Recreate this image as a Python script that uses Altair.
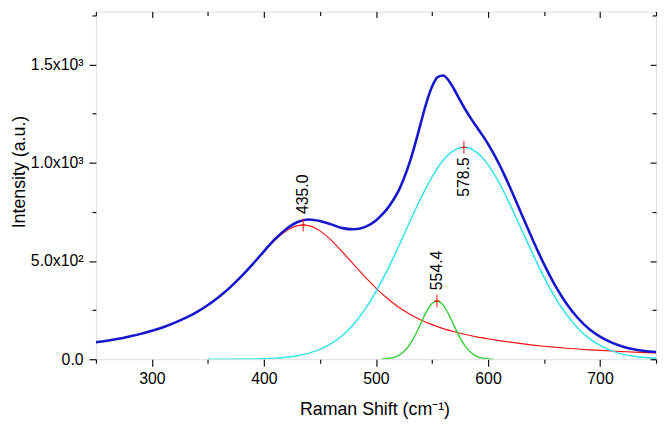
import altair as alt
import pandas as pd

# ---------------- data ----------------
# cumulative fit (blue)
blue_x = [250, 260, 270, 280, 290, 300, 310, 320, 330, 340, 350, 360, 370, 380, 390,
          400, 410, 420, 430, 440, 450, 460, 470, 480, 490, 500, 505, 510, 515, 520,
          525, 530, 535, 540, 545, 550, 555, 560, 565, 570, 575, 580, 585, 590, 595,
          600, 605, 610, 615, 620, 630, 640, 650, 660, 670, 680, 690, 700, 710, 720,
          730, 740, 750]
blue_y = [86, 94, 104, 116, 129, 145, 163, 185, 210, 240, 276, 318, 367, 423, 484,
          549, 612, 663, 698, 711, 703, 686, 667, 661, 672, 706, 733, 765, 806, 855,
          921, 1000, 1096, 1201, 1304, 1386, 1435, 1443, 1417, 1371, 1318, 1268, 1223, 1181, 1140,
          1096, 1046, 992, 933, 870, 738, 607, 484, 375, 284, 211, 155, 115, 86, 65,
          51, 42, 37]

# peak 1 (red)
red_x = [250, 260, 270, 280, 290, 300, 310, 320, 330, 340, 350, 360, 370, 380, 390,
         400, 410, 420, 430, 435, 440, 450, 460, 470, 480, 490, 500, 510, 520, 530,
         540, 550, 560, 570, 580, 590, 600, 610, 620, 630, 640, 650, 660, 670, 680,
         690, 700, 710, 720, 730, 740, 750]
red_y = [86, 94, 104, 116, 129, 145, 163, 185, 210, 240, 276, 318, 367, 422, 483,
         546, 606, 653, 680, 683, 680, 653, 606, 546, 483, 420, 362, 310, 266, 230,
         200, 176, 156, 140, 126, 114, 104, 95, 87, 79, 72, 66, 61, 56, 52,
         48, 45, 42, 39, 36, 34, 32]

# peak 3 (cyan)
cyan_x = [350, 360, 370, 380, 390, 400, 410, 420, 430, 440, 450, 460, 470, 480, 490,
          500, 510, 520, 530, 540, 550, 560, 570, 578.5, 590, 600, 610, 620, 630, 640,
          650, 660, 670, 680, 690, 700, 710, 720, 730, 740, 750]
cyan_y = [0.1, 0.2, 0.3, 0.7, 1.5, 2.9, 5.6, 10, 18, 31, 50, 80, 121, 178, 252,
          344, 452, 571, 697, 819, 927, 1012, 1064, 1078, 1052, 990, 897, 783, 659, 535,
          418, 314, 228, 159, 107, 70, 44, 26, 15, 8.5, 4.6]

# peak 2 (green)
green_x = [505, 510, 515, 520, 525, 530, 535, 540, 545, 550, 554.4, 560, 565, 570, 575,
           580, 585, 590, 595, 600, 605]
green_y = [1, 3, 8, 18, 39, 73, 122, 182, 241, 283, 296, 275, 227, 167, 109,
           64, 33, 15, 6, 2, 0.7]

# peak markers / labels
peak_x = [435.0, 554.4, 578.5]
peak_y = [683, 296, 1078]
peak_labels = ["435.0", "554.4", "578.5"]
peak_above = [True, True, False]

# axes
x_tick_values = [250, 300, 350, 400, 450, 500, 550, 600, 650, 700, 750]
y_tick_values = [0, 250, 500, 750, 1000, 1250, 1500, 1750]
y_label_values = [0, 500, 1000, 1500]
y_label_texts = ["0.0", "5.0x10²", "1.0x10³", "1.5x10³"]
x_title = "Raman Shift (cm⁻¹)"
y_title = "Intensity (a.u.)"

# ---------------- layout ----------------
FONT = "Liberation Sans"
PLOT_W, PLOT_H = 567, 352
X_DOMAIN = [250, 750]
Y_DOMAIN = [0, 1769]

xscale = alt.Scale(domain=X_DOMAIN, nice=False, zero=False)
yscale = alt.Scale(domain=Y_DOMAIN, nice=False)

y_label_expr = "".join(
    f"datum.value === {v} ? '{t}' : " for v, t in zip(y_label_values, y_label_texts)
) + "''"
x_label_expr = "datum.value % 100 === 0 ? datum.label : ''"

x_major = {"condition": {"test": "datum.value % 100 === 0", "value": 7}, "value": 4}
y_major = {"condition": {"test": "datum.value % 500 === 0", "value": 7}, "value": 4}
x_major_in = {"condition": {"test": "datum.value % 100 === 0", "value": 6}, "value": 4}
y_major_in = {"condition": {"test": "datum.value % 500 === 0", "value": 6}, "value": 4}

axis_common = dict(domain=False, grid=False, tickColor="#111", tickWidth=1.2)

x_bottom = alt.Axis(orient="bottom", values=x_tick_values, labelExpr=x_label_expr,
                    tickSize=x_major, labelPadding=5, labelFont=FONT, labelFontSize=16,
                    labelColor="#000", title=x_title, titleFont=FONT, titleFontSize=18,
                    titleFontWeight="normal", titleColor="#000", titleX=282, titleY=56,
                    titleBaseline="alphabetic", titleAlign="center", **axis_common)
y_left = alt.Axis(orient="left", values=y_tick_values, labelExpr=y_label_expr,
                  tickSize=y_major, labelPadding=6, labelFont=FONT, labelFontSize=16,
                  labelColor="#000", title=y_title, titleFont=FONT, titleFontSize=18,
                  titleFontWeight="normal", titleColor="#000", titleX=-72, titleY=162,
                  titleAngle=270, titleBaseline="alphabetic", titleAlign="center",
                  **axis_common)
x_top = alt.Axis(orient="bottom", offset=-PLOT_H, values=x_tick_values, labels=False,
                 tickSize=x_major_in, title=None, **axis_common)
y_right = alt.Axis(orient="left", offset=-PLOT_W, values=y_tick_values, labels=False,
                   tickSize=y_major_in, title=None, **axis_common)


def line(xs, ys, color, width, ax_x=None, ax_y=None):
    df = pd.DataFrame({"x": xs, "y": ys})
    return alt.Chart(df).mark_line(color=color, strokeWidth=width,
                                   interpolate="monotone", clip=True).encode(
        x=alt.X("x:Q", scale=xscale, axis=ax_x),
        y=alt.Y("y:Q", scale=yscale, axis=ax_y),
    )


red = line(red_x, red_y, "#f41414", 1.2, x_top, y_right)
cyan = line(cyan_x, cyan_y, "#30e3e8", 1.5)
green = line(green_x, green_y, "#33cc33", 1.4)
blue = line(blue_x, blue_y, "#1616cc", 2.6, x_bottom, y_left)

peaks = pd.DataFrame({"x": peak_x, "y": peak_y, "label": peak_labels, "above": peak_above})

markers = alt.Chart(peaks).mark_point(
    shape="M0,-1L0,1M-0.45,0L0.45,0", size=169, filled=False,
    stroke="#ff0000", strokeWidth=1, opacity=1,
).encode(
    x=alt.X("x:Q", scale=xscale, axis=None),
    y=alt.Y("y:Q", scale=yscale, axis=None),
)

text_above = alt.Chart(peaks).transform_filter("datum.above").mark_text(
    angle=270, align="left", baseline="middle", yOffset=-11,
    font=FONT, fontSize=16, color="#000",
).encode(
    x=alt.X("x:Q", scale=xscale, axis=None),
    y=alt.Y("y:Q", scale=yscale, axis=None),
    text="label:N",
)
text_below = alt.Chart(peaks).transform_filter("!datum.above").mark_text(
    angle=270, align="right", baseline="middle", yOffset=10,
    font=FONT, fontSize=16, color="#000",
).encode(
    x=alt.X("x:Q", scale=xscale, axis=None),
    y=alt.Y("y:Q", scale=yscale, axis=None),
    text="label:N",
)

chart = alt.layer(red, cyan, green, blue, markers, text_above, text_below).resolve_axis(
    x="independent", y="independent"
).properties(
    width=PLOT_W, height=PLOT_H,
    autosize=alt.AutoSizeParams(type="none"),
    padding={"left": 89, "top": 1, "right": 2, "bottom": 62},
).configure_view(stroke="#111", strokeWidth=1.3).configure(background="white")

chart.save("out.html", embed_options={"renderer": "svg", "actions": False})
